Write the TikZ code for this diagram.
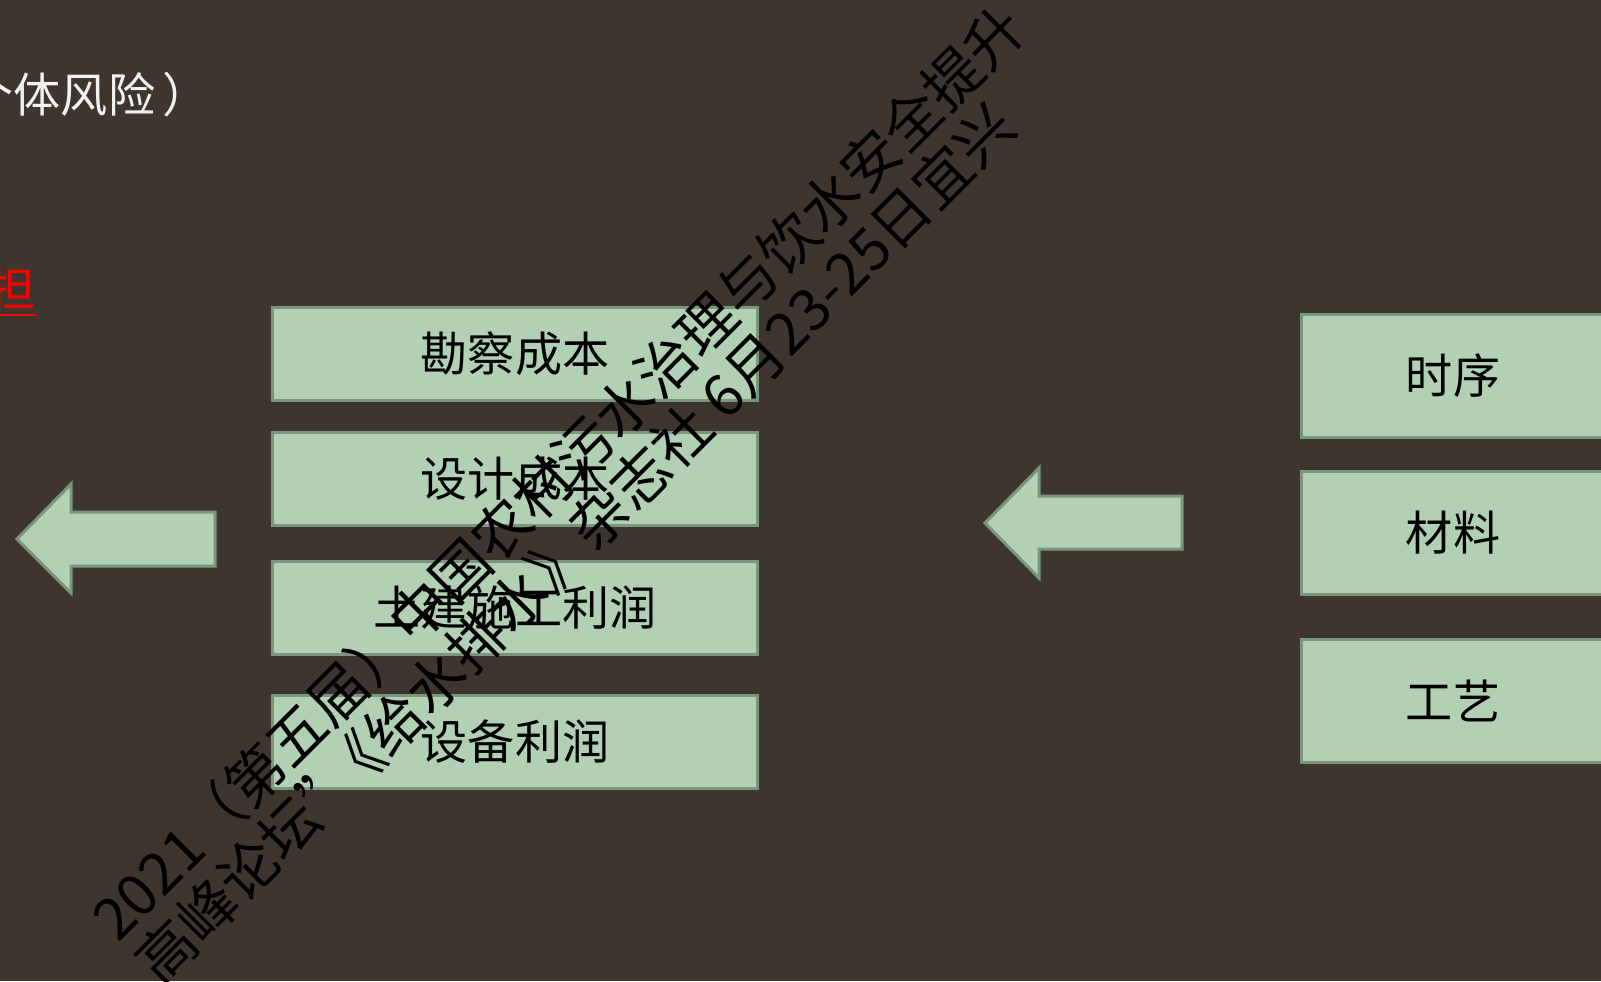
\documentclass[tikz,border=0pt]{standalone}
\usepackage{fontspec}
\setmainfont{Noto Sans CJK SC}
\usepackage{tikz}

\definecolor{bgbrown}{RGB}{62,54,46}
\definecolor{boxgreen}{RGB}{178,208,180}
\definecolor{boxedge}{RGB}{122,150,124}
\definecolor{offwhite}{RGB}{242,242,242}

\tikzset{
  costbox/.style={draw=boxedge, line width=0.03cm, fill=boxgreen, inner sep=0pt,
    minimum width=4.85cm, minimum height=0.92cm, font=\fontsize{13.4pt}{16pt}\selectfont},
  factorbox/.style={draw=boxedge, line width=0.03cm, fill=boxgreen, inner sep=0pt,
    minimum width=3.02cm, minimum height=1.22cm, font=\fontsize{13.4pt}{16pt}\selectfont},
  bigarrow/.style={draw=boxedge, line width=0.03cm, fill=boxgreen}
}

\begin{document}
\begin{tikzpicture}[x=0.01cm,y=-0.01cm]
\useasboundingbox (0,0) rectangle (1601,981);
\clip (0,0) rectangle (1601,981);
\fill[bgbrown] (0,0) rectangle (1601,981);

\node[anchor=west, inner sep=0pt, text=offwhite, font=\fontsize{13.4pt}{16pt}\selectfont] (risk) at (-34,95) {个体风险\kern0.15em）};
\node[anchor=west, inner sep=0pt, text=red, font=\fontsize{13.4pt}{16pt}\selectfont] (bear) at (-12,292) {\underline{担}};

\node[costbox] (survey) at (515,354) {勘察成本};
\node[costbox] (design) at (515,479) {设计成本};
\node[costbox] (civil) at (515,608) {土建施工利润};
\node[costbox] (equip) at (515,742) {设备利润};

\node[factorbox] (order) at (1453,376) {时序};
\node[factorbox] (material) at (1453,533) {材料};
\node[factorbox] (craft) at (1453,701) {工艺};

\filldraw[bigarrow] (17,539) -- (71,484) -- (71,512) -- (215,512) -- (215,566) -- (71,566) -- (71,593) -- cycle;
\filldraw[bigarrow] (985,523) -- (1039,468) -- (1039,496) -- (1182,496) -- (1182,549) -- (1039,549) -- (1039,578) -- cycle;

\node[rotate=45, align=left, inner sep=0pt, text=black, font=\fontsize{16.5pt}{17.5pt}\selectfont] (mark) at (580,494)
  {2021（第五届）中国农村污水治理与饮水安全提升\\高峰论坛”\kern-0.45em《给水排水》杂志社 6月23-25日宜兴};
\end{tikzpicture}
\end{document}
